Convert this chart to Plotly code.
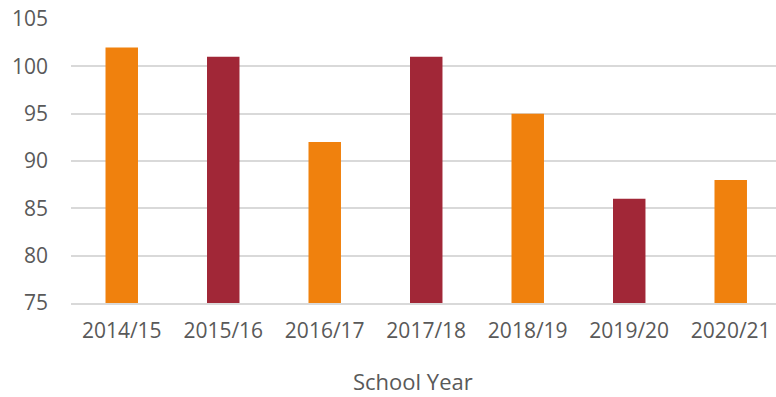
import plotly.graph_objects as go

years = ["2014/15", "2015/16", "2016/17", "2017/18", "2018/19", "2019/20", "2020/21"]
values = [102, 101, 92, 101, 95, 86, 88]
bar_colors = ["#F0810D", "#A12737", "#F0810D", "#A12737", "#F0810D", "#A12737", "#F0810D"]
y_ticks = [75, 80, 85, 90, 95, 100, 105]

font_family = "Open Sans, Noto Sans, sans-serif"
text_color = "#595959"

W, H = 776, 397
M_L, M_R, M_T, M_B = 71, 0, 19, 94

fig = go.Figure(
    go.Bar(
        x=years,
        y=values,
        marker=dict(color=bar_colors, line=dict(width=0)),
        width=0.32,
    )
)

# axis title, centred under the category labels
fig.add_annotation(
    text="School Year",
    xref="paper", yref="paper",
    x=(413 - M_L) / (W - M_L - M_R),
    y=-(381 - (H - M_B)) / (H - M_T - M_B),
    xanchor="center", yanchor="middle",
    showarrow=False,
    font=dict(size=22, color=text_color, family=font_family),
)

fig.update_layout(
    width=W,
    height=H,
    margin=dict(l=M_L, r=M_R, t=M_T, b=M_B),
    paper_bgcolor="white",
    plot_bgcolor="white",
    showlegend=False,
    font=dict(family=font_family, color=text_color, size=21),
    xaxis=dict(
        range=[-0.5, 6.446],
        tickfont=dict(size=21, color=text_color),
        showgrid=False,
        showline=True,
        linecolor="#D9D9D9",
        linewidth=1.5,
        ticks="",
        ticklabelstandoff=8,
    ),
    yaxis=dict(
        range=[75, 105],
        tickvals=y_ticks,
        tickfont=dict(size=21, color=text_color),
        showgrid=True,
        gridcolor="#D9D9D9",
        gridwidth=1.5,
        zeroline=False,
        showline=False,
        ticks="",
        ticklabelstandoff=22,
    ),
)

fig.write_html("out.html")
